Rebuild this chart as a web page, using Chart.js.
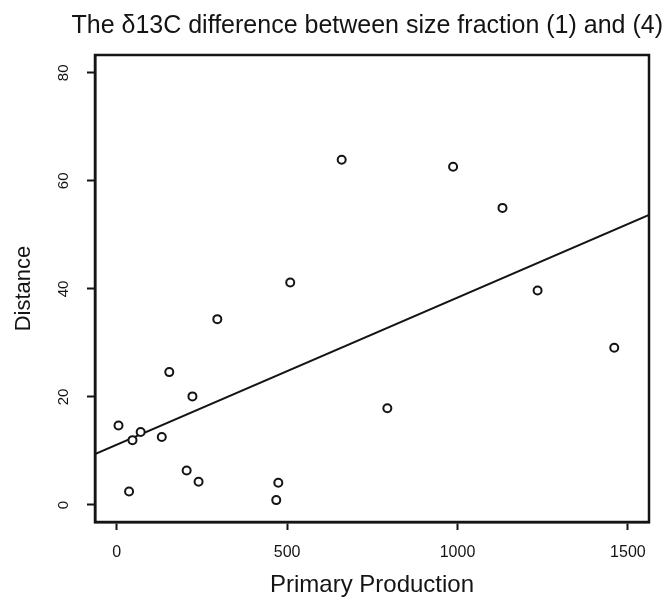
<!DOCTYPE html>
<html>
<head>
<meta charset="utf-8">
<script src="https://cdn.jsdelivr.net/npm/chart.js@4.4.1/dist/chart.umd.min.js"></script>
<style>
html,body{margin:0;padding:0;background:#fff;}
#wrap{width:668px;height:601px;}
</style>
</head>
<body>
<div id="wrap"><canvas id="c" width="668" height="601"></canvas></div>
<script>
// Data
const primaryProduction = [5, 46, 70, 36, 132, 154, 222, 205, 240, 295, 509, 474, 468, 794, 1235, 1460, 660, 987, 1132];
const distance = [14.7, 12.0, 13.5, 2.5, 12.6, 24.6, 20.1, 6.4, 4.3, 34.4, 41.2, 4.1, 0.9, 17.9, 39.7, 29.1, 63.9, 62.6, 55.0];
// Fitted regression line, end points
const fitX = [-64, 1562];
const fitY = [9.4, 53.7];
const xTicks = [0, 500, 1000, 1500];
const yTicks = [0, 20, 40, 60, 80];
const titleText = 'The \u03b413C difference between size fraction (1) and (4)';
const xLabel = 'Primary Production';
const yLabel = 'Distance';

const FONT = "'Liberation Sans', Arial, Helvetica, sans-serif";
const INK = '#141414';

const points = primaryProduction.map((x, i) => ({x: x, y: distance[i]}));
const fitLine = fitX.map((x, i) => ({x: x, y: fitY[i]}));

const framePlugin = {
  id: 'frame',
  afterDatasetsDraw(chart) {
    const a = chart.chartArea, ctx = chart.ctx;
    ctx.save();
    ctx.strokeStyle = INK;
    ctx.lineWidth = 2.5;
    ctx.strokeRect(a.left, a.top, a.right - a.left, a.bottom - a.top);
    ctx.restore();
  }
};

const tickGrid = {display: true, drawOnChartArea: false, drawTicks: true, tickLength: 8, tickWidth: 2, tickColor: INK, color: INK};

new Chart(document.getElementById('c'), {
  type: 'scatter',
  data: {
    datasets: [
      {
        data: points,
        pointStyle: 'circle',
        pointRadius: 4,
        pointBorderWidth: 2,
        borderColor: INK,
        backgroundColor: 'rgba(0,0,0,0)',
        pointBackgroundColor: '#fff',
        showLine: false
      },
      {
        type: 'line',
        data: fitLine,
        borderColor: INK,
        borderWidth: 2,
        pointRadius: 0,
        fill: false,
        tension: 0
      }
    ]
  },
  options: {
    responsive: false,
    animation: false,
    layout: {padding: {left: 11, right: 5, top: 0, bottom: 1.1}},
    plugins: {
      legend: {display: false},
      tooltip: {enabled: false},
      title: {
        display: true,
        text: titleText,
        align: 'end',
        color: INK,
        font: {family: FONT, size: 25, weight: 'normal', lineHeight: 1.2},
        padding: {top: 11, bottom: 14}
      }
    },
    scales: {
      x: {
        type: 'linear',
        min: -64,
        max: 1562,
        afterBuildTicks(s) { s.ticks = xTicks.map(v => ({value: v})); },
        afterFit(s) { s.height = 77.9; },
        border: {display: true, color: INK, width: 2.5},
        grid: tickGrid,
        ticks: {color: INK, font: {family: FONT, size: 16}, padding: 13, maxRotation: 0, minRotation: 0, callback: v => String(v)},
        title: {display: true, text: xLabel, color: INK, font: {family: FONT, size: 24, lineHeight: 1.2}, padding: 0}
      },
      y: {
        type: 'linear',
        min: -3.15,
        max: 83.3,
        afterBuildTicks(s) { s.ticks = yTicks.map(v => ({value: v})); },
        afterFit(s) { s.width = 84; },
        border: {display: true, color: INK, width: 2.5},
        grid: tickGrid,
        ticks: {color: INK, font: {family: FONT, size: 15}, padding: 14.6, minRotation: 90, maxRotation: 90, crossAlign: 'center', callback: v => String(v)},
        title: {display: true, text: yLabel, color: INK, font: {family: FONT, size: 22, lineHeight: 1.2}, padding: 0}
      },
      yRight: {
        type: 'linear',
        position: 'right',
        display: true,
        afterFit(s) { s.width = 14; },
        border: {display: false},
        grid: {display: false, drawTicks: false},
        ticks: {display: false}
      }
    }
  },
  plugins: [framePlugin]
});
</script>
</body>
</html>
